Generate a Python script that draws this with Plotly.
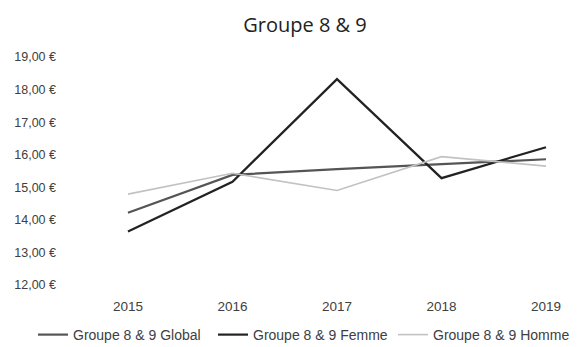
import plotly.graph_objects as go

years = ["2015", "2016", "2017", "2018", "2019"]
global_vals = [14.22, 15.38, 15.56, 15.71, 15.86]
femme_vals = [13.64, 15.17, 18.32, 15.28, 16.23]
homme_vals = [14.79, 15.43, 14.90, 15.94, 15.65]

y_ticks = [12, 13, 14, 15, 16, 17, 18, 19]
y_labels = ["12,00 €", "13,00 €", "14,00 €", "15,00 €", "16,00 €", "17,00 €", "18,00 €", "19,00 €"]

series = [
    ("Groupe 8 & 9 Global", global_vals, "#555555", 2.2, 135),
    ("Groupe 8 & 9 Femme", femme_vals, "#222222", 2.2, 135),
    ("Groupe 8 & 9 Homme", homme_vals, "#c2c2c2", 1.6, 140),
]

fig = go.Figure()
for name, vals, color, width, lw in series:
    fig.add_trace(go.Scatter(
        x=years, y=vals, name=name, mode="lines",
        line=dict(color=color, width=width),
        legendwidth=lw,
    ))

TICK_FONT = "Liberation Sans, Arial, sans-serif"

# plot area: 66..576 px horizontally, 57..285 px vertically
PL, PW, PT, PH = 66, 510, 57, 228

fig.update_layout(
    width=579, height=347,
    margin=dict(l=PL, r=579 - PL - PW, t=PT, b=347 - PT - PH, autoexpand=False),
    paper_bgcolor="white", plot_bgcolor="white",
    font=dict(family=TICK_FONT, color="#404040", size=13),
    title=dict(
        text="Groupe 8 & 9", x=305 / 579, xref="container", xanchor="center",
        y=1 - 25 / 347, yref="container", yanchor="middle",
        font=dict(family="Open Sans, Liberation Sans, sans-serif", size=20, color="#222222"),
    ),
    xaxis=dict(
        type="category", range=[-0.593, 4.287], showgrid=False, zeroline=False,
        showline=False, ticks="", tickfont=dict(size=13.5), ticklabelstandoff=11,
    ),
    yaxis=dict(
        range=[12, 19], tickvals=y_ticks, ticktext=y_labels,
        showgrid=False, zeroline=False, showline=False, ticks="",
        tickfont=dict(size=12.5), ticklabelstandoff=9,
    ),
    legend=dict(
        orientation="h", xref="paper", yref="paper",
        x=(33 - PL) / PW, xanchor="left",
        y=-(335 - (PT + PH)) / PH, yanchor="middle",
        font=dict(size=14, color="#404040"),
        itemwidth=30,
        bgcolor="rgba(0,0,0,0)",
    ),
)

fig.write_html("out.html")
